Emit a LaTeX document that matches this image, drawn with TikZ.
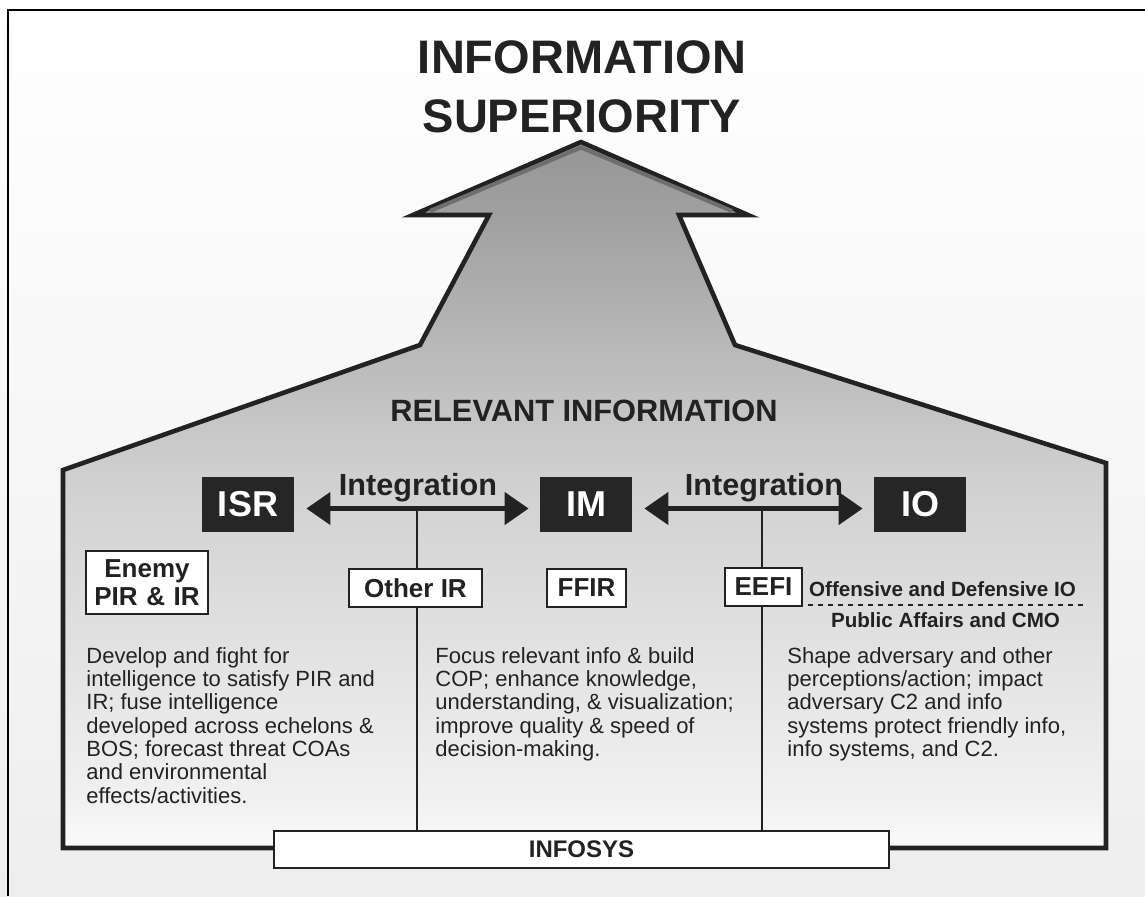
\documentclass[tikz,border=0pt]{standalone}
\usepackage{fontspec}
\setmainfont{Liberation Sans}
\usetikzlibrary{arrows.meta}

\definecolor{ink}{HTML}{222222}
\definecolor{boxdark}{HTML}{262626}
\definecolor{bandgray}{HTML}{6E6E6E}
\definecolor{bgbottom}{HTML}{EEEEEE}
\definecolor{sA}{HTML}{FAFAFA}
\definecolor{sB}{HTML}{F1F1F1}
\definecolor{sC}{HTML}{E2E2E2}
\definecolor{sD}{HTML}{D6D6D6}
\definecolor{sE}{HTML}{CFCFCF}
\definecolor{sF}{HTML}{B8B8B8}
\definecolor{sG}{HTML}{A0A0A0}
\definecolor{sH}{HTML}{969696}

% light at the foot, darker towards the arrow tip
\pgfdeclareverticalshading{houseshade}{100bp}{%
  color(0bp)=(sA); color(25bp)=(sA); color(28.3bp)=(sB); color(38.9bp)=(sC);
  color(47.4bp)=(sD); color(51.7bp)=(sE); color(60.6bp)=(sF);
  color(69.7bp)=(sG); color(75bp)=(sH); color(100bp)=(sH)}

\tikzset{
  darkbox/.style={fill=boxdark, text=white, font=\bfseries\fontsize{18}{20}\selectfont,
    minimum width=46pt, minimum height=27.5pt, inner sep=0pt},
  labelbox/.style={draw=ink, line width=1pt, fill=white, text=ink,
    font=\bfseries\fontsize{13}{14}\selectfont, inner sep=0pt, minimum height=19pt},
  bodytext/.style={text=ink, font=\fontsize{11}{11.65}\selectfont, align=left,
    anchor=north west, inner sep=0pt},
  smallbold/.style={text=ink, font=\bfseries\fontsize{10.3}{12}\selectfont, inner sep=0pt, anchor=base},
  integr/.style={ink, line width=2.3pt,
    {Triangle[length=12pt,width=16pt]}-{Triangle[length=12pt,width=16pt]},
    shorten <=6pt, shorten >=5.5pt},
  joinline/.style={ink, line width=1pt},
}

\begin{document}
\begin{tikzpicture}[x=0.5pt,y=-0.5pt]
        \useasboundingbox (0,0) rectangle (1145,896);
        \fill[top color=white, bottom color=bgbottom] (0,0) rectangle (1145,896);
        \draw[black, line width=1pt] (8,896) -- (8,10) -- (1145,10);

        % outline of the house with the arrow on top
        \coordinate (BaseL) at (63,848);
        \coordinate (EaveL) at (63,470);
        \coordinate (ShaftL) at (420,345);
        \coordinate (NeckL) at (489,215);
        \coordinate (WingL) at (413,215);
        \coordinate (Apex) at (581,142);
        \coordinate (WingR) at (748,215);
        \coordinate (NeckR) at (679,215);
        \coordinate (ShaftR) at (735,345);
        \coordinate (EaveR) at (1106,463);
        \coordinate (BaseR) at (1106,848);

        \path[shading=houseshade]
          (BaseL) -- (EaveL) -- (ShaftL) -- (NeckL) -- (WingL) -- (Apex) -- (WingR)
          -- (NeckR) -- (ShaftR) -- (EaveR) -- (BaseR) -- cycle;
        \draw[ink, line width=2.3pt, line join=miter]
          (BaseL) -- (EaveL) -- (ShaftL) -- (NeckL) -- (WingL) -- (Apex) -- (WingR)
          -- (NeckR) -- (ShaftR) -- (EaveR) -- (BaseR) -- cycle;
        \draw[bandgray, line width=2pt] (430,211) -- (581,147.5) -- (732,211);

        \node[text=ink, font=\bfseries\fontsize{23.5}{29.5}\selectfont, align=center,
              anchor=north, inner sep=0pt] (title) at (582,40) {INFORMATION\\SUPERIORITY};
        \node[text=ink, font=\bfseries\fontsize{15.4}{17}\selectfont, anchor=base,
              inner sep=0pt] (relinfo) at (584,421) {RELEVANT INFORMATION};

        % the three functions
        \foreach \name/\x/\txt in {isr/248/ISR, im/586/IM, io/920/IO}{
          \node[darkbox] (\name) at (\x,504.5) {\txt};
        }
        \draw[integr] ([yshift=-2pt]isr.east) -- ([yshift=-2pt]im.west);
        \draw[integr] ([yshift=-2pt]im.east) -- ([yshift=-2pt]io.west);
        \node[text=ink, font=\bfseries\fontsize{15.3}{17}\selectfont, anchor=base,
              inner sep=0pt] (intl) at (418,495) {Integration};
        \node[text=ink, font=\bfseries\fontsize{15.3}{17}\selectfont, anchor=base,
              inner sep=0pt] (intr) at (764,495) {Integration};
        \coordinate (jl) at (417,509);
        \coordinate (jr) at (762,509);

        \node[labelbox, text width=61pt, align=center, minimum height=31.5pt]
          (enemy) at (147,582.5) {Enemy\\PIR \& IR};

        \node[bodytext] (isrtext) at (86,647) {Develop and fight for\\intelligence to satisfy PIR and\\IR; fuse intelligence\\developed across echelons \&\\BOS; forecast threat COAs\\and environmental\\effects/activities.};
        \node[bodytext] (imtext) at (435,647) {Focus relevant info \& build\\COP; enhance knowledge,\\understanding, \& visualization;\\improve quality \& speed of\\decision-making.};
        \node[bodytext] (iotext) at (787,647) {Shape adversary and other\\perceptions/action; impact\\adversary C2 and info\\systems protect friendly info,\\info systems, and C2.};

        \node[labelbox, line width=1.2pt, minimum width=307.5pt, minimum height=18.5pt,
              font=\bfseries\fontsize{12}{14}\selectfont] (infosys) at (581.5,849.5) {INFOSYS};

        \draw[joinline] (jl) -- (jl |- infosys.north);
        \draw[joinline] (jr) -- (jr |- infosys.north);

        \node[labelbox, minimum width=66.5pt] (otherir) at (415.5,588) {Other IR};
        \node[labelbox, minimum width=39.5pt] (ffir) at (586.5,588) {FFIR};
        \node[labelbox, minimum width=38.5pt] (eefi) at (763.5,587) {EEFI};

        \node[smallbold] (offdef) at (942.5,596) {Offensive and Defensive IO};
        \draw[ink, line width=1pt, dash pattern=on 2.5pt off 2.5pt] (808,605) -- (1085,605);
        \node[smallbold] (pubaff) at (945.5,627) {Public Affairs and CMO};
\end{tikzpicture}
\end{document}
